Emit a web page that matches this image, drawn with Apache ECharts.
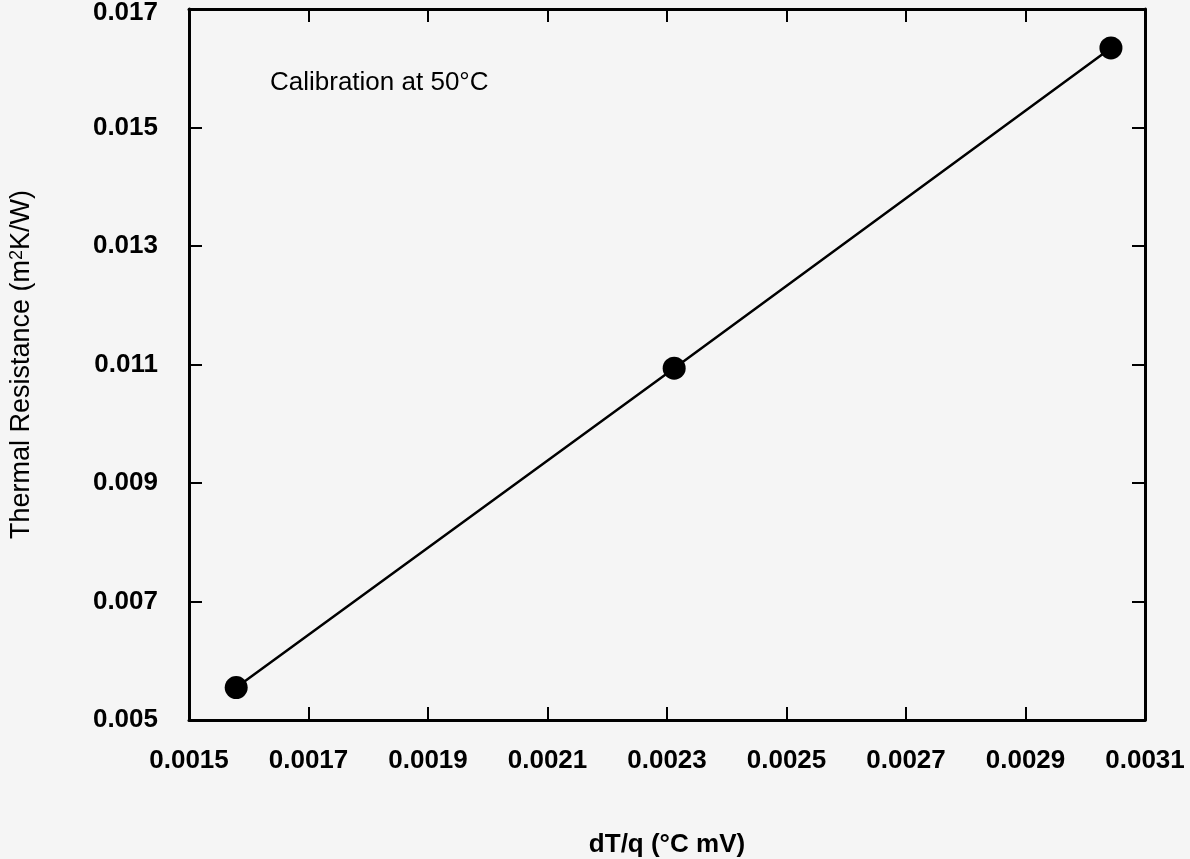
<!DOCTYPE html>
<html>
<head>
<meta charset="utf-8">
<script src="https://cdn.jsdelivr.net/npm/echarts@6/dist/echarts.min.js"></script>
<style>
html,body{margin:0;padding:0;background:#f5f5f5;}
#chart{width:1190px;height:859px;}
</style>
</head>
<body>
<div id="chart"></div>
<script>
// Data
var xValues = [0.001579, 0.002312, 0.003043];
var yValues = [0.005547, 0.010937, 0.016343];
var xTicks = [0.0015, 0.0017, 0.0019, 0.0021, 0.0023, 0.0025, 0.0027, 0.0029, 0.0031];
var yTicks = [0.005, 0.007, 0.009, 0.011, 0.013, 0.015, 0.017];
var xTitle = 'dT/q (°C mV)';
var annotation = 'Calibration at 50°C';

var FONT = '"Liberation Sans", Arial, Helvetica, sans-serif';
var chart = echarts.init(document.getElementById('chart'));

function axisBase(pos, ticks, decimals, showLabel) {
  return {
    type: 'value',
    position: pos,
    min: ticks[0],
    max: ticks[ticks.length - 1],
    axisLine: { show: true, onZero: false, lineStyle: { color: '#000', width: 3 } },
    axisTick: { show: true, inside: true, length: 13, customValues: ticks, lineStyle: { color: '#000', width: 2 } },
    axisLabel: {
      show: showLabel,
      customValues: ticks,
      formatter: function (v) { return v.toFixed(decimals); },
      color: '#000', fontFamily: FONT, fontWeight: 'bold', fontSize: 26
    },
    splitLine: { show: false }
  };
}

var xBottom = axisBase('bottom', xTicks, 4, true);
xBottom.axisLabel.margin = 28;
xBottom.name = xTitle;
xBottom.nameLocation = 'middle';
xBottom.nameGap = 112;
xBottom.nameTextStyle = { color: '#000', fontFamily: FONT, fontWeight: 'bold', fontSize: 26 };
var xTop = axisBase('top', xTicks, 4, false);

var yLeft = axisBase('left', yTicks, 3, true);
yLeft.axisLabel.margin = 31;
yLeft.axisLabel.formatter = function (v) {
  var s = v.toFixed(3);
  return v >= yTicks[yTicks.length - 1] - 1e-9 ? '{top|' + s + '}' : s;
};
yLeft.axisLabel.rich = {
  top: { color: '#000', fontFamily: FONT, fontWeight: 'bold', fontSize: 26, padding: [8, 0, 0, 0] }
};
yLeft.name = '{t|Thermal Resistance (m}{s|2}{t|K/W)}';
yLeft.nameLocation = 'middle';
yLeft.nameGap = 153;
yLeft.nameTextStyle = {
  color: '#000', fontFamily: FONT, fontSize: 27,
  rich: {
    t: { color: '#000', fontFamily: FONT, fontSize: 27 },
    s: { color: '#000', fontFamily: FONT, fontSize: 18, verticalAlign: 'top', padding: [0, 0, 10, 0] }
  }
};
var yRight = axisBase('right', yTicks, 3, false);

var data = xValues.map(function (x, i) { return [x, yValues[i]]; });

chart.setOption({
  backgroundColor: '#f5f5f5',
  animation: false,
  grid: { left: 189, right: 45, top: 9, bottom: 139, containLabel: false, outerBoundsMode: 'none' },
  xAxis: [xBottom, xTop],
  yAxis: [yLeft, yRight],
  graphic: [{
    type: 'text', left: 270, top: 70,
    style: { text: annotation, fill: '#000', font: 'normal 26px ' + FONT }
  }],
  series: [{
    type: 'line',
    data: data,
    symbol: 'circle',
    symbolSize: 23,
    itemStyle: { color: '#000' },
    lineStyle: { color: '#000', width: 2.5 }
  }]
});
</script>
</body>
</html>
